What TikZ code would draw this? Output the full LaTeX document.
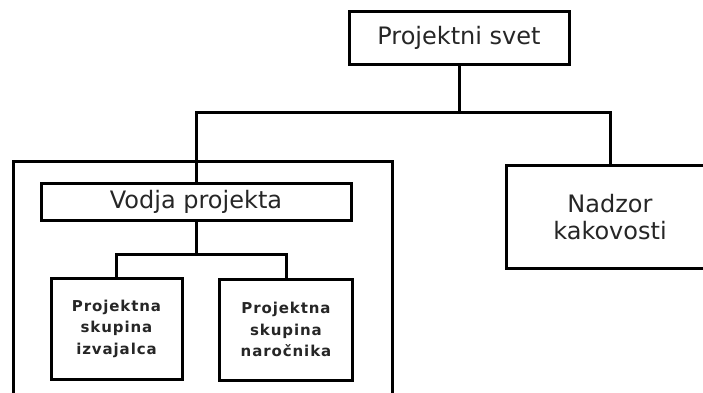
\documentclass[tikz,border=0pt]{standalone}
\usepackage{fontspec}
\setmainfont{DejaVu Sans}
\newfontfamily\teamfont[LetterSpace=6]{DejaVu Sans Bold}
\begin{document}
\begin{tikzpicture}[x=1pt,y=-1pt,
  orgbox/.style={draw=black,line width=3pt,inner sep=0pt,align=center,
    font=\fontsize{24}{27}\selectfont,text=black!85},
  teambox/.style={orgbox,font=\teamfont\fontsize{15}{21.5}\selectfont},
  link/.style={draw=black,line width=3pt,line join=miter}]
  \useasboundingbox[fill=white] (0,0) rectangle (703,392);

  % project team frame (continues below the page edge)
  \draw[line width=3pt] (13.5,420) -- (13.5,161.5) -- (392,161.5) -- (392,420);

  % boxes
  \node[orgbox,minimum width=220pt,minimum height=52.5pt] (svet) at (459,38) {Projektni svet};
  \node[orgbox,minimum width=310pt,minimum height=37pt] (vodja) at (196,202) {Vodja projekta};
  \node[orgbox,minimum width=207pt,minimum height=102.5pt] (nadzor) at (610,217) {Nadzor\\kakovosti};
  \node[teambox,minimum width=131pt,minimum height=101pt] (izv) at (116.5,328.5) {Projektna\\skupina\\izvajalca};
  \node[teambox,minimum width=132.5pt,minimum height=101pt] (nar) at (286,329.5) {Projektna\\skupina\\naročnika};

  % branch levels
  \coordinate (split) at (0,112);
  \coordinate (split2) at (0,254);

  % connectors
  \draw[link] (svet.south) -- (svet.south |- split);
  \draw[link] (vodja.north) -- (vodja.north |- split) -- (nadzor.north |- split) -- (nadzor.north);
  \draw[link] (vodja.south) -- (vodja.south |- split2);
  \draw[link] (izv.north) -- (izv.north |- split2) -- (nar.north |- split2) -- (nar.north);
\end{tikzpicture}
\end{document}
